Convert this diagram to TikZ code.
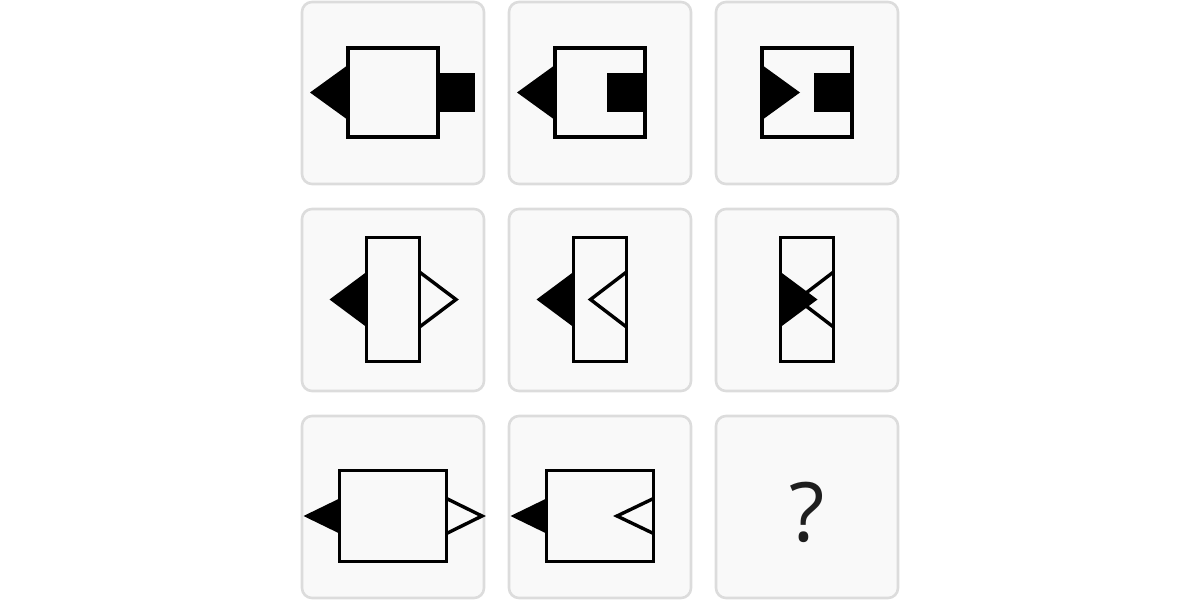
\documentclass[tikz,border=0pt]{standalone}
\usepackage{fontspec}
\setmainfont{Open Sans}
\usepackage{tikz}

\definecolor{panelfill}{RGB}{249,249,249}
\definecolor{panelline}{RGB}{220,220,220}
\definecolor{qmark}{RGB}{30,30,30}

\begin{document}
\begin{tikzpicture}[x=0.5pt,y=-0.5pt,
	panel/.style={draw=panelline,fill=panelfill,line width=1.3pt,rounded corners=5pt},
	frame/.style={draw=black,line width=1.7pt},
	blk/.style={fill=black},
	wht/.style={draw=black,fill=panelfill,line width=1.7pt}]
			\useasboundingbox (0,0) rectangle (1200,600);

			% panels
			\draw[panel] (302,2) rectangle (484,184);
			\draw[panel] (509,2) rectangle (691,184);
			\draw[panel] (716,2) rectangle (898,184);
			\draw[panel] (302,209) rectangle (484,391);
			\draw[panel] (509,209) rectangle (691,391);
			\draw[panel] (716,209) rectangle (898,391);
			\draw[panel] (302,416) rectangle (484,598);
			\draw[panel] (509,416) rectangle (691,598);
			\draw[panel] (716,416) rectangle (898,598);

			% row 1
			\fill[blk] (348,65) -- (310,92.5) -- (348,120) -- cycle;
			\fill[blk] (438,73) rectangle (475,112);
			\draw[frame] (348,48) rectangle (438,137);

			\fill[blk] (555,65) -- (517,92.5) -- (555,120) -- cycle;
			\fill[blk] (607,73) rectangle (645,112);
			\draw[frame] (555,48) rectangle (645,137);

			\fill[blk] (762,65) -- (800,92.5) -- (762,120) -- cycle;
			\fill[blk] (814,73) rectangle (852,112);
			\draw[frame] (762,48) rectangle (852,137);

			% row 2
			\fill[blk] (366.5,272) -- (329.5,299.5) -- (366.5,327) -- cycle;
			\draw[wht] (419.5,272) -- (456,299.5) -- (419.5,327);
			\draw[frame] (366.5,237.5) rectangle (419.5,361.5);

			\fill[blk] (573.5,272) -- (536.5,299.5) -- (573.5,327) -- cycle;
			\draw[wht] (626.5,272) -- (590.5,299.5) -- (626.5,327);
			\draw[frame] (573.5,237.5) rectangle (626.5,361.5);

			\draw[wht] (833.5,272) -- (797.5,299.5) -- (833.5,327);
			\fill[blk] (780.5,272) -- (817.5,299.5) -- (780.5,327) -- cycle;
			\draw[frame] (780.5,237.5) rectangle (833.5,361.5);

			% row 3
			\fill[blk] (339.5,498.5) -- (303.5,516) -- (339.5,533.5) -- cycle;
			\draw[wht] (446.5,498.5) -- (482,516) -- (446.5,533.5);
			\draw[frame] (339.5,470.5) rectangle (446.5,561.5);

			\fill[blk] (546.5,498.5) -- (510.5,516) -- (546.5,533.5) -- cycle;
			\draw[wht] (653.5,498.5) -- (617,516) -- (653.5,533.5);
			\draw[frame] (546.5,470.5) rectangle (653.5,561.5);

			\node[text=qmark,font=\fontsize{41}{41}\selectfont] (ask) at (807,512.5) {?};
		\end{tikzpicture}
\end{document}
